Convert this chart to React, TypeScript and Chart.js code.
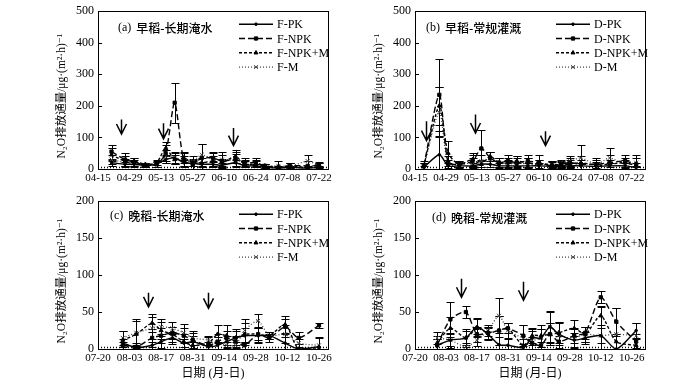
import React, { useEffect, useRef } from 'react';
import { Chart, registerables } from 'chart.js';
import { drawPoint } from 'chart.js/helpers';
Chart.register(...registerables);

const SERIF = '"Liberation Serif", "Times New Roman", "DejaVu Serif", "Noto Sans CJK SC", serif';
const CJK = '"Noto Sans CJK SC", sans-serif';

// ---------- tick labels ----------
const earlyTicks = ['04-15', '04-29', '05-13', '05-27', '06-10', '06-24', '07-08', '07-22'];
const lateTicks = ['07-20', '08-03', '08-17', '08-31', '09-14', '09-28', '10-12', '10-26'];
const fNames = ['F-PK', 'F-NPK', 'F-NPK+M', 'F-M'];
const dNames = ['D-PK', 'D-NPK', 'D-NPK+M', 'D-M'];

// ---------- (a) early rice, long-term flooding ----------
const aDates = ['04-21', '04-27', '05-01', '05-06', '05-11', '05-15', '05-19', '05-23', '05-27', '05-31', '06-05', '06-09', '06-15', '06-19', '06-24', '06-28', '07-04', '07-09', '07-17', '07-22'];
const aPK = [20, 15, 15, 12, 15, 30, 35, 20, 18, 15, 15, 12, 20, 10, 10, 5, 3, 5, 3, 5];
const aPKErr = [10, 8, 8, 5, 8, 10, 15, 10, 8, 8, 8, 8, 10, 5, 5, 3, 3, 3, 3, 3];
const aNPK = [55, 30, 22, 12, 15, 50, 210, 30, 15, 35, 35, 25, 30, 20, 20, 10, 5, 10, 10, 10];
const aNPKErr = [22, 20, 12, 6, 10, 25, 63, 25, 15, 45, 20, 20, 25, 15, 15, 6, 5, 10, 15, 10];
const aNPKM = [45, 25, 25, 15, 20, 65, 30, 35, 20, 20, 25, 20, 40, 15, 15, 10, 5, 10, 5, 15];
const aNPKMErr = [20, 15, 10, 5, 8, 20, 15, 15, 12, 15, 15, 12, 20, 10, 10, 5, 5, 8, 5, 8];
const aM = [30, 20, 18, 12, 15, 40, 35, 25, 25, 45, 30, 30, 28, 20, 18, 10, 10, 8, 25, 10];
const aMErr = [15, 12, 10, 6, 8, 20, 20, 15, 15, 35, 20, 25, 20, 10, 10, 6, 15, 10, 20, 10];
const aArrowDates = ['04-25', '05-14', '06-14'];
const aArrowTop = [157, 145, 130];
const aArrowTip = [111, 96, 74];

// ---------- (b) early rice, conventional irrigation ----------
const bDates = ['04-19', '04-26', '04-30', '05-05', '05-11', '05-15', '05-19', '05-23', '05-27', '05-31', '06-05', '06-10', '06-16', '06-20', '06-24', '06-29', '07-06', '07-12', '07-19', '07-24'];
const bPK = [5, 45, 10, 10, 10, 15, 15, 10, 10, 10, 10, 10, 8, 8, 10, 10, 8, 10, 10, 5];
const bPKErr = [5, 60, 8, 8, 8, 10, 10, 8, 8, 8, 8, 8, 5, 5, 8, 10, 8, 10, 8, 5];
const bNPK = [10, 235, 20, 15, 25, 65, 35, 20, 25, 20, 25, 20, 10, 15, 20, 15, 15, 20, 25, 15];
const bNPKErr = [15, 115, 20, 8, 20, 60, 20, 15, 20, 20, 20, 25, 15, 10, 15, 15, 20, 25, 20, 30];
const bNPKM = [10, 200, 50, 15, 30, 15, 40, 20, 20, 25, 20, 15, 15, 12, 15, 20, 12, 15, 20, 10];
const bNPKMErr = [10, 60, 40, 10, 20, 15, 15, 15, 15, 15, 15, 15, 10, 10, 15, 20, 10, 15, 15, 10];
const bM = [8, 180, 15, 15, 20, 25, 30, 20, 15, 20, 15, 15, 12, 20, 25, 35, 15, 35, 15, 20];
const bMErr = [10, 80, 15, 10, 15, 20, 25, 15, 15, 15, 20, 15, 10, 10, 15, 40, 15, 30, 15, 15];
const bArrowDates = ['04-20', '05-12', '06-13'];
const bArrowTop = [151, 173, 120];
const bArrowTip = [90, 114, 74];

// ---------- (c) late rice, long-term flooding ----------
const cDates = ['07-31', '08-06', '08-13', '08-17', '08-22', '08-27', '08-31', '09-07', '09-11', '09-15', '09-19', '09-23', '09-29', '10-04', '10-11', '10-17', '10-26'];
const cPK = [8, 2, 5, 10, 15, 8, 10, 3, 5, 10, 15, 18, 18, 18, 8, 0, 3];
const cPKErr = [5, 3, 5, 8, 8, 5, 8, 3, 5, 8, 10, 10, 10, 5, 8, 0, 13];
const cNPK = [5, 3, 15, 18, 22, 18, 12, 5, 10, 15, 10, 5, 20, 15, 30, 15, 32];
const cNPKErr = [5, 5, 12, 10, 8, 10, 10, 5, 10, 10, 8, 5, 8, 5, 10, 8, 3];
const cNPKM = [12, 20, 35, 25, 20, 10, 5, 8, 20, 18, 15, 20, 20, 18, 33, 0, 0];
const cNPKMErr = [12, 18, 12, 12, 10, 10, 5, 8, 12, 15, 12, 15, 10, 5, 12, 0, 0];
const cM = [15, 22, 28, 30, 28, 22, 15, 12, 8, 5, 5, 25, 38, 18, 20, 8, 5];
const cMErr = [10, 18, 15, 10, 8, 12, 10, 6, 8, 5, 5, 15, 10, 5, 12, 5, 10];
const cArrowDates = ['08-11', '09-07'];
const cArrowTop = [76, 76];
const cArrowTip = [57, 55];

// ---------- (d) late rice, conventional irrigation ----------
const dDates = ['07-30', '08-05', '08-12', '08-17', '08-22', '08-27', '08-31', '09-07', '09-11', '09-15', '09-19', '09-23', '09-30', '10-05', '10-12', '10-19', '10-28'];
const dPK = [5, 12, 15, 30, 20, 6, 5, 2, 15, 15, 30, 20, 12, 15, 18, 0, 25];
const dPKErr = [8, 10, 12, 12, 8, 10, 8, 5, 10, 12, 20, 15, 10, 8, 40, 0, 10];
const dNPK = [5, 40, 50, 20, 22, 25, 28, 18, 8, 5, 20, 10, 18, 22, 70, 37, 10];
const dNPKErr = [8, 24, 8, 10, 8, 20, 7, 14, 8, 5, 15, 8, 10, 8, 8, 19, 10];
const dNPKM = [8, 28, 15, 28, 22, 25, 28, 5, 18, 18, 20, 22, 28, 20, 45, 10, 5];
const dNPKMErr = [10, 15, 10, 12, 8, 20, 7, 8, 10, 15, 15, 14, 11, 10, 12, 10, 8];
const dM = [15, 12, 3, 12, 25, 45, 25, 15, 12, 15, 30, 18, 15, 20, 18, 20, 18];
const dMErr = [8, 8, 5, 8, 8, 24, 10, 17, 15, 12, 22, 18, 12, 10, 10, 36, 17];
const dArrowDates = ['08-10', '09-07'];
const dArrowTop = [95, 91];
const dArrowTip = [70, 66];

const yTitle = 'N₂O排放通量/μg·(m²·h)⁻¹';
const xTitle = '日期 (月-日)';

const seriesStyles = [
  { dash: [], pointStyle: 'circle', r: 1.3, color: '#000', w: 1.4 },
  { dash: [6, 3], pointStyle: 'rect', r: 2.3, color: '#000', w: 1.4 },
  { dash: [3, 2], pointStyle: 'triangle', r: 2.3, color: '#000', w: 1.4 },
  { dash: [1, 2], pointStyle: 'crossRot', r: 2.8, color: '#444', w: 1.3 },
];

function dayOffset(base: string, md: string) {
  const [bm, bd] = base.split('-').map(Number);
  const [m, d] = md.split('-').map(Number);
  return (Date.UTC(2001, m - 1, d) - Date.UTC(2001, bm - 1, bd)) / 86400000;
}

type Panel = {
  tag: string; title: string; base: string; xMax: number; ticks: string[];
  yMax: number; yStep: number; dates: string[]; names: string[];
  vals: number[][]; errs: number[][];
  arrows: string[]; arrowTop: number[]; arrowTip: number[];
  box: { left: number; top: number; w: number; h: number };
  area: { l: number; t: number; r: number; b: number };
  labelOff: [number, number]; xTitle: boolean;
};

const panels: Panel[] = [
  {
    tag: '(a)', title: '早稻-长期淹水', base: '04-15', xMax: 102, ticks: earlyTicks, yMax: 500, yStep: 100,
    dates: aDates, names: fNames, vals: [aPK, aNPK, aNPKM, aM], errs: [aPKErr, aNPKErr, aNPKMErr, aMErr],
    arrows: aArrowDates, arrowTop: aArrowTop, arrowTip: aArrowTip,
    box: { left: 0, top: 0, w: 350, h: 190 }, area: { l: 98, t: 7, r: 328, b: 169 }, labelOff: [20, 17], xTitle: false,
  },
  {
    tag: '(b)', title: '早稻-常规灌溉', base: '04-15', xMax: 104, ticks: earlyTicks, yMax: 500, yStep: 100,
    dates: bDates, names: dNames, vals: [bPK, bNPK, bNPKM, bM], errs: [bPKErr, bNPKErr, bNPKMErr, bMErr],
    arrows: bArrowDates, arrowTop: bArrowTop, arrowTip: bArrowTip,
    box: { left: 350, top: 0, w: 350, h: 190 }, area: { l: 415, t: 7, r: 645, b: 169 }, labelOff: [11, 17], xTitle: false,
  },
  {
    tag: '(c)', title: '晚稻-长期淹水', base: '07-20', xMax: 102, ticks: lateTicks, yMax: 200, yStep: 50,
    dates: cDates, names: fNames, vals: [cPK, cNPK, cNPKM, cM], errs: [cPKErr, cNPKErr, cNPKMErr, cMErr],
    arrows: cArrowDates, arrowTop: cArrowTop, arrowTip: cArrowTip,
    box: { left: 0, top: 190, w: 350, h: 193 }, area: { l: 98, t: 197, r: 328, b: 349 }, labelOff: [12, 15], xTitle: true,
  },
  {
    tag: '(d)', title: '晚稻-常规灌溉', base: '07-20', xMax: 104, ticks: lateTicks, yMax: 200, yStep: 50,
    dates: dDates, names: dNames, vals: [dPK, dNPK, dNPKM, dM], errs: [dPKErr, dNPKErr, dNPKMErr, dMErr],
    arrows: dArrowDates, arrowTop: dArrowTop, arrowTip: dArrowTip,
    box: { left: 350, top: 190, w: 350, h: 193 }, area: { l: 415, t: 197, r: 645, b: 349 }, labelOff: [17, 17], xTitle: true,
  },
];

const Y_W = 40;
const X_H = 20;

function makeChart(canvas: HTMLCanvasElement, p: Panel) {
  const tickVals = p.ticks.map((t) => dayOffset(p.base, t));
  const datasets = p.vals.map((vals, si) => {
    const s = seriesStyles[si];
    return {
      label: p.names[si],
      data: p.dates.map((d, i) => ({ x: dayOffset(p.base, d), y: vals[i] })),
      borderColor: s.color,
      backgroundColor: s.color,
      borderWidth: s.w,
      borderDash: s.dash,
      pointStyle: s.pointStyle,
      pointRadius: s.r,
      pointBorderWidth: 1,
      pointBackgroundColor: s.color,
      pointBorderColor: s.color,
      tension: 0.25,
      fill: false,
    };
  });

  const deco = {
    id: 'deco',
    beforeDatasetsDraw(chart: any) {
      const { ctx } = chart;
      const xs = chart.scales.x;
      const ys = chart.scales.y;
      ctx.save();
      p.vals.forEach((vals, si) => {
        ctx.strokeStyle = '#000';
        ctx.lineWidth = 1;
        ctx.setLineDash([]);
        p.dates.forEach((d, i) => {
          const e = p.errs[si][i];
          if (!e) return;
          const x = Math.round(xs.getPixelForValue(dayOffset(p.base, d))) + 0.5;
          const y1 = Math.round(ys.getPixelForValue(vals[i] + e)) + 0.5;
          const y0 = Math.round(ys.getPixelForValue(Math.max(0, vals[i] - e))) + 0.5;
          ctx.beginPath();
          ctx.moveTo(x, y0); ctx.lineTo(x, y1);
          ctx.moveTo(x - 4, y1); ctx.lineTo(x + 4, y1);
          ctx.moveTo(x - 4, y0); ctx.lineTo(x + 4, y0);
          ctx.stroke();
        });
      });
      ctx.restore();
    },
    afterDraw(chart: any) {
      const { ctx, chartArea: ca } = chart;
      const xs = chart.scales.x;
      const ys = chart.scales.y;
      ctx.save();
      // frame
      ctx.strokeStyle = '#000';
      ctx.lineWidth = 1;
      ctx.setLineDash([]);
      ctx.strokeRect(Math.round(ca.left) + 0.5, Math.round(ca.top) + 0.5, Math.round(ca.right - ca.left), Math.round(ca.bottom - ca.top));
      // inward y ticks
      ctx.beginPath();
      for (let v = 0; v <= p.yMax; v += p.yStep) {
        const y = Math.round(ys.getPixelForValue(v)) + 0.5;
        ctx.moveTo(ca.left, y); ctx.lineTo(ca.left + 4, y);
      }
      ctx.stroke();
      // dotted baseline
      ctx.beginPath();
      ctx.setLineDash([1, 2]);
      ctx.lineWidth = 1.5;
      ctx.moveTo(ca.left, ca.bottom - 1.5); ctx.lineTo(ca.right, ca.bottom - 1.5);
      ctx.stroke();
      ctx.setLineDash([]);
      // arrows
      ctx.lineWidth = 1.5;
      p.arrows.forEach((d, i) => {
        const x = Math.round(xs.getPixelForValue(dayOffset(p.base, d))) + 0.5;
        const yt = ys.getPixelForValue(p.arrowTop[i]);
        const yb = ys.getPixelForValue(p.arrowTip[i]);
        ctx.beginPath();
        ctx.moveTo(x, yt); ctx.lineTo(x, yb);
        ctx.moveTo(x - 5, yb - 10); ctx.lineTo(x, yb); ctx.lineTo(x + 5, yb - 10);
        ctx.stroke();
      });
      // legend
      ctx.textBaseline = 'middle';
      ctx.textAlign = 'left';
      p.names.forEach((n, i) => {
        const s = seriesStyles[i];
        const y = ca.top + 13 + i * 14.3;
        const x0 = ca.left + 141;
        const x1 = ca.left + 175;
        ctx.strokeStyle = s.color;
        ctx.fillStyle = s.color;
        ctx.lineWidth = s.w;
        ctx.setLineDash(s.dash);
        ctx.beginPath();
        ctx.moveTo(x0, y); ctx.lineTo(x1, y);
        ctx.stroke();
        ctx.setLineDash([]);
        ctx.lineWidth = 1;
        drawPoint(ctx, { pointStyle: s.pointStyle as any, radius: s.r, rotation: 0, borderWidth: 1 }, (x0 + x1) / 2, y);
        ctx.fillStyle = '#000';
        ctx.font = `12px ${SERIF}`;
        ctx.fillText(n, x1 + 4, y + 1);
      });
      // panel label
      ctx.fillStyle = '#000';
      ctx.font = `12px ${SERIF}`;
      const lx = ca.left + p.labelOff[0];
      const ly = ca.top + p.labelOff[1];
      ctx.fillText(p.tag, lx, ly);
      const w = ctx.measureText(p.tag).width;
      ctx.font = `500 12px ${CJK}`;
      ctx.fillText(p.title, lx + w + 5, ly);
      // y title
      ctx.save();
      ctx.translate(ca.left - 36, (ca.top + ca.bottom) / 2 + 6);
      ctx.rotate(-Math.PI / 2);
      ctx.textAlign = 'center';
      ctx.font = `11.5px ${SERIF}`;
      ctx.fillText(yTitle, 0, 0);
      ctx.restore();
      // x title
      if (p.xTitle) {
        ctx.textAlign = 'center';
        ctx.font = `12px ${SERIF}`;
        ctx.fillText(xTitle, (ca.left + ca.right) / 2, ca.bottom + 25);
      }
      ctx.restore();
    },
  };

  const padBottom = p.box.top + p.box.h - p.area.b - X_H;
  return new Chart(canvas, {
    type: 'line',
    data: { datasets: datasets as any },
    options: {
      animation: false,
      responsive: false,
      maintainAspectRatio: false,
      devicePixelRatio: 1,
      layout: {
        padding: {
          left: p.area.l - p.box.left - Y_W,
          top: p.area.t - p.box.top,
          right: p.box.left + p.box.w - p.area.r,
          bottom: padBottom,
        },
      },
      plugins: { legend: { display: false }, tooltip: { enabled: false }, title: { display: false } },
      scales: {
        x: {
          type: 'linear',
          min: 0,
          max: p.xMax,
          afterBuildTicks: (scale: any) => { scale.ticks = tickVals.map((v) => ({ value: v })); },
          afterFit: (scale: any) => { scale.height = X_H; },
          grid: { display: false, drawTicks: false },
          border: { display: false },
          ticks: {
            autoSkip: false,
            maxRotation: 0,
            padding: 3,
            color: '#000',
            font: { family: SERIF, size: 11 },
            callback: (_v: any, idx: number) => p.ticks[idx],
          },
        },
        y: {
          min: 0,
          max: p.yMax,
          afterFit: (scale: any) => { scale.width = Y_W; },
          grid: { display: false, drawTicks: false },
          border: { display: false },
          ticks: {
            stepSize: p.yStep,
            padding: 4,
            color: '#000',
            font: { family: SERIF, size: 12 },
          },
        },
      },
    },
    plugins: [deco],
  });
}

function PanelChart({ p }: { p: Panel }) {
  const ref = useRef<HTMLCanvasElement | null>(null);
  useEffect(() => {
    if (!ref.current) return;
    const c = makeChart(ref.current, p);
    return () => c.destroy();
  }, [p]);
  return (
    <canvas
      ref={ref}
      width={p.box.w}
      height={p.box.h}
      style={{ position: 'absolute', left: p.box.left, top: p.box.top, width: p.box.w, height: p.box.h }}
    />
  );
}

export default function App() {
  return (
    <div style={{ position: 'fixed', left: 0, top: 0, width: 700, height: 383, background: '#fff', overflow: 'hidden' }}>
      {panels.map((p) => (
        <PanelChart key={p.tag} p={p} />
      ))}
    </div>
  );
}
